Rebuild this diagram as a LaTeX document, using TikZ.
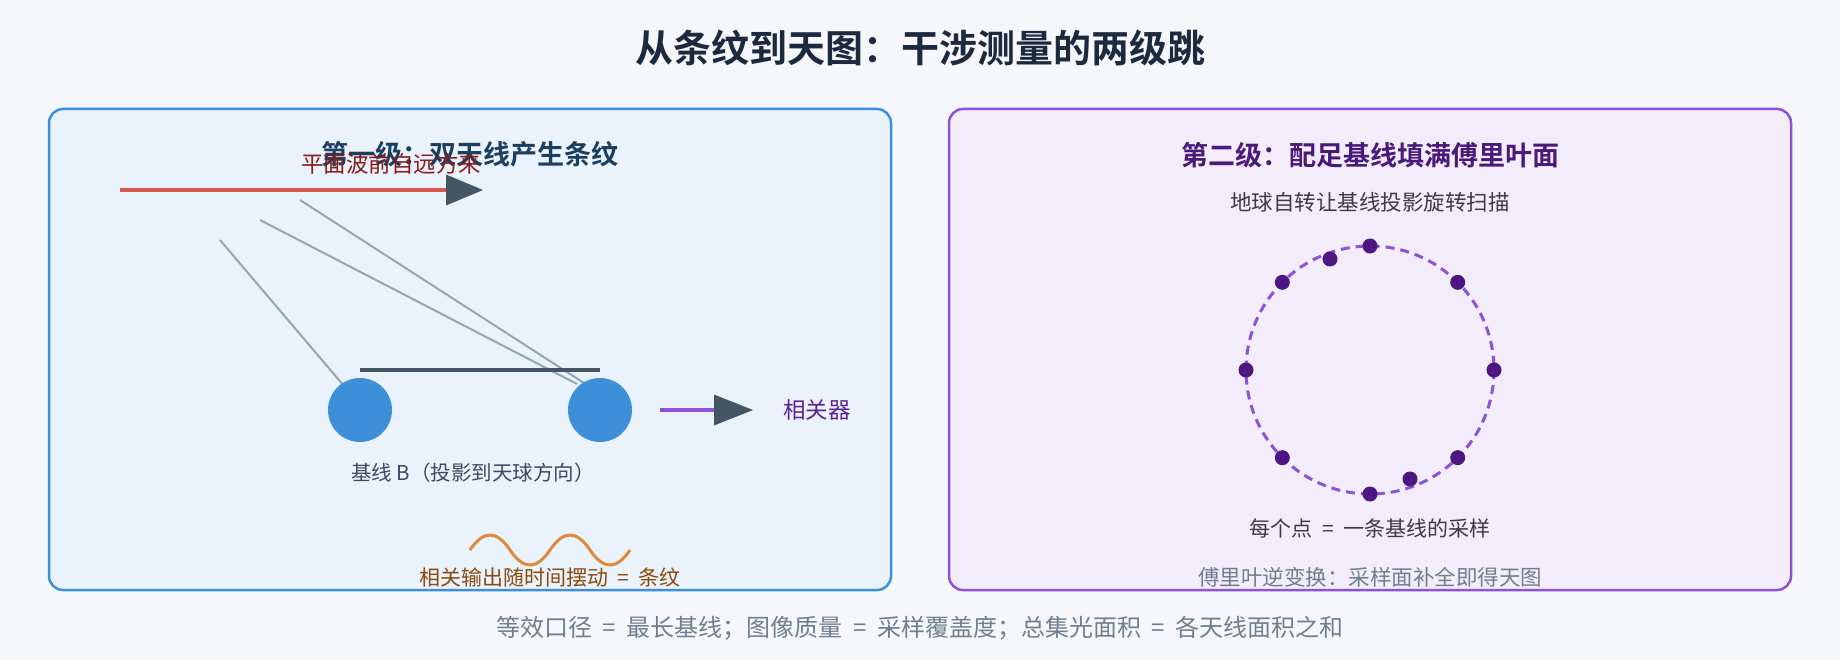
\documentclass[tikz,border=0pt]{standalone}
\usepackage{fontspec}
\setmainfont{Noto Sans CJK SC}[BoldFont={Noto Sans CJK SC Bold}]
\usetikzlibrary{arrows.meta,calc}
\newcommand{\eqsgn}{\kern0.22em=\kern0.22em}
\definecolor{bgc}{HTML}{F5F7FB}
\definecolor{lfill}{HTML}{EAF2FB}
\definecolor{lborder}{HTML}{3D8FD9}
\definecolor{rfill}{HTML}{F3ECFA}
\definecolor{rborder}{HTML}{8E52D9}
\definecolor{titlec}{HTML}{1B2A3E}
\definecolor{ltitlec}{HTML}{1B3F5E}
\definecolor{rtitlec}{HTML}{4A1A7A}
\definecolor{redc}{HTML}{D9574C}
\definecolor{redtext}{HTML}{8B1A1A}
\definecolor{arrowc}{HTML}{445566}
\definecolor{rayc}{HTML}{8FAAAD}
\definecolor{antc}{HTML}{3D8FD9}
\definecolor{corrc}{HTML}{5B2190}
\definecolor{slatetext}{HTML}{3A4A5C}
\definecolor{wavec}{HTML}{DD8A3C}
\definecolor{wavetext}{HTML}{8B4A0E}
\definecolor{graytext}{HTML}{6E7F8F}
\definecolor{darktext}{HTML}{3C3A4A}
\definecolor{dotc}{HTML}{4E1680}
\begin{document}
\begin{tikzpicture}[x=1pt,y=-1pt,
  txt/.style={inner sep=0pt, anchor=center},
  panel/.style={line width=2.5pt, rounded corners=14pt},
  ray/.style={draw=rayc, line width=2pt},
  antenna/.style={circle, fill=antc, minimum size=64pt, inner sep=0pt},
  uvdot/.style={circle, fill=dotc, minimum size=15pt, inner sep=0pt},
  bigtip/.style={-{Triangle[length=#1, width=31pt, color=arrowc, line width=0pt]}}
]
\useasboundingbox (0,0) rectangle (1840,660);
\fill[bgc] (0,0) rectangle (1840,660);

% title
\node[txt, font=\fontsize{38}{44}\selectfont\bfseries, text=titlec] (title) at (920,48) {从条纹到天图：干涉测量的两级跳};

% panels
\draw[panel, draw=lborder, fill=lfill] (49,109) rectangle (891,590);
\draw[panel, draw=rborder, fill=rfill] (949,109) rectangle (1791,590);

% ---- left panel ----
\node[txt, font=\fontsize{27}{32}\selectfont\bfseries, text=ltitlec] (ltitle) at (470,154) {第一级：双天线产生条纹};

\coordinate (wfA) at (120,190);
\coordinate (wfB) at (483,190);
\draw[redc, line width=4pt, bigtip=37pt] (wfA) -- (wfB);
\node[txt, font=\fontsize{22.5}{26}\selectfont, text=redtext] (wftext) at (391,164) {平面波前自远方来};

\coordinate (r1a) at (220,240);
\coordinate (r1b) at (344,386);
\coordinate (r2a) at (260,220);
\coordinate (r2b) at (577,384);
\coordinate (r3a) at (300,200);
\coordinate (r3b) at (584,383);
\draw[ray] (r1a) -- (r1b);
\draw[ray] (r2a) -- (r2b);
\draw[ray] (r3a) -- (r3b);

\coordinate (bl) at (360,370);
\coordinate (br) at (600,370);
\draw[arrowc, line width=4pt] (bl) -- (br);

\node[antenna] (ant1) at (360,410) {};
\node[antenna] (ant2) at (600,410) {};

\node[txt, font=\fontsize{20.5}{24}\selectfont, text=slatetext] (blabel) at (473,473) {基线 B（投影到天球方向）};

\coordinate (pa) at (660,410);
\coordinate (pb) at (753,410);
\draw[rborder, line width=3.5pt, bigtip=39pt] (pa) -- (pb);
\node[txt, font=\fontsize{22.5}{26}\selectfont, text=corrc] (corr) at (817,410) {相关器};

\draw[wavec, line width=3pt] (470,550) .. controls (483.33,530) and (496.67,530) .. (510,550)
  .. controls (523.33,570) and (536.67,570) .. (550,550)
  .. controls (563.33,530) and (576.67,530) .. (590,550)
  .. controls (603.33,570) and (616.67,570) .. (630,550);
\node[txt, font=\fontsize{21}{25}\selectfont, text=wavetext] (wavelabel) at (550,577) {相关输出随时间摆动 \eqsgn{} 条纹};

% ---- right panel ----
\node[txt, font=\fontsize{27}{32}\selectfont\bfseries, text=rtitlec] (rtitle) at (1370,155) {第二级：配足基线填满傅里叶面};
\node[txt, font=\fontsize{21.5}{25}\selectfont, text=darktext] (rsub) at (1370,202) {地球自转让基线投影旋转扫描};

\coordinate (uvc) at (1370,370);
\draw[rborder, line width=3pt, dash pattern=on 9pt off 6pt] (uvc) circle[radius=124];
\foreach \a [count=\i] in {0,45,90,135,180,225,270,315}
  \node[uvdot] (d\i) at ($(uvc)+(\a:124)$) {};
\node[uvdot] (d9) at (1330,259) {};
\node[uvdot] (d10) at (1410,479) {};

\node[txt, font=\fontsize{21}{25}\selectfont, text=darktext] (rnote) at (1370,528) {每个点 \eqsgn{} 一条基线的采样};
\node[txt, font=\fontsize{21.5}{25}\selectfont, text=graytext] (rfoot) at (1370,577) {傅里叶逆变换：采样面补全即得天图};

% footer
\node[txt, font=\fontsize{24}{28}\selectfont, text=graytext] (footer) at (920,628) {等效口径 \eqsgn{} 最长基线；图像质量 \eqsgn{} 采样覆盖度；总集光面积 \eqsgn{} 各天线面积之和};
\end{tikzpicture}
\end{document}
